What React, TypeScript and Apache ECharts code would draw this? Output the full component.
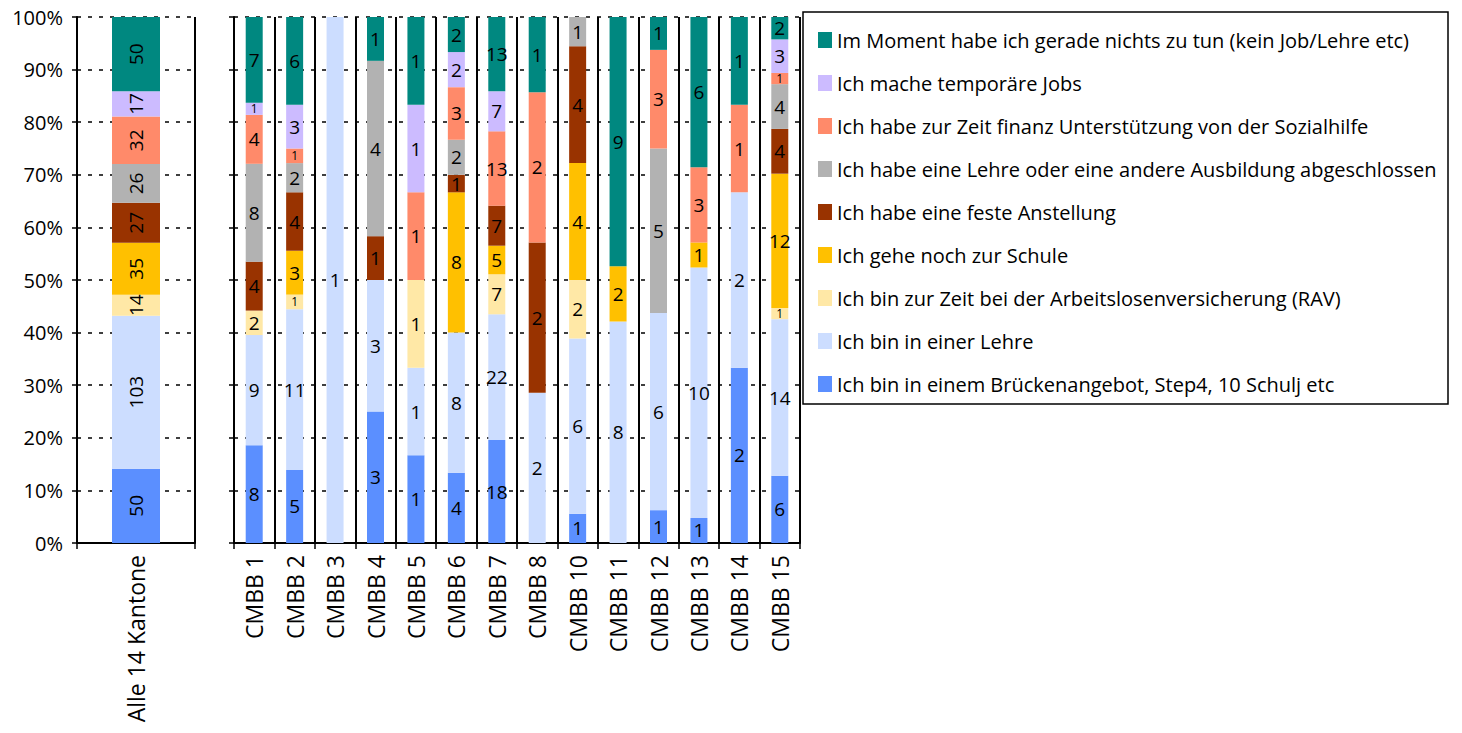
import React, { useEffect, useRef } from "react";
import * as echarts from "echarts";

const categories = [
  "Alle 14 Kantone",
  "CMBB 1", "CMBB 2", "CMBB 3", "CMBB 4", "CMBB 5", "CMBB 6", "CMBB 7",
  "CMBB 8", "CMBB 10", "CMBB 11", "CMBB 12", "CMBB 13", "CMBB 14", "CMBB 15",
];

const seriesNames = [
  "Ich bin in einem Brückenangebot, Step4, 10 Schulj etc",
  "Ich bin in einer Lehre",
  "Ich bin zur Zeit bei der Arbeitslosenversicherung (RAV)",
  "Ich gehe noch zur Schule",
  "Ich habe eine feste Anstellung",
  "Ich habe eine Lehre oder eine andere Ausbildung abgeschlossen",
  "Ich habe zur Zeit finanz Unterstützung von der Sozialhilfe",
  "Ich mache temporäre Jobs",
  "Im Moment habe ich gerade nichts zu tun (kein Job/Lehre etc)",
];

const bruecken = [50, 8, 5, 0, 3, 1, 4, 18, 0, 1, 0, 1, 1, 2, 6];
const lehre = [103, 9, 11, 1, 3, 1, 8, 22, 2, 6, 8, 6, 10, 2, 14];
const rav = [14, 2, 1, 0, 0, 1, 0, 7, 0, 2, 0, 0, 0, 0, 1];
const schule = [35, 0, 3, 0, 0, 0, 8, 5, 0, 4, 2, 0, 1, 0, 12];
const anstellung = [27, 4, 4, 0, 1, 0, 1, 7, 2, 4, 0, 0, 0, 0, 4];
const abgeschlossen = [26, 8, 2, 0, 4, 0, 2, 0, 0, 1, 0, 5, 0, 0, 4];
const sozialhilfe = [32, 4, 1, 0, 0, 1, 3, 13, 2, 0, 0, 3, 3, 1, 1];
const temporaer = [17, 1, 3, 0, 0, 1, 2, 7, 0, 0, 0, 0, 0, 0, 3];
const nichts = [50, 7, 6, 0, 1, 1, 2, 13, 1, 0, 9, 1, 6, 1, 2];

const counts = [bruecken, lehre, rav, schule, anstellung, abgeschlossen, sozialhilfe, temporaer, nichts];

const colors = [
  "#5B8FFF", "#CCDDFF", "#FFE8A6", "#FFC000", "#993300",
  "#B2B2B2", "#FF8A6A", "#CCBBFF", "#008880",
];

const yTicks = [0, 10, 20, 30, 40, 50, 60, 70, 80, 90, 100];

const FONT = "Open Sans";
const PLOT_H = 526;

export default function App() {
  const ref = useRef<HTMLDivElement>(null);
  useEffect(() => {
    if (!ref.current) return;
    const chart = echarts.init(ref.current, null, { renderer: "svg" });
    const totals = categories.map((_, i) => counts.reduce((s, arr) => s + arr[i], 0));

    const series: any[] = [];
    counts.forEach((arr, si) => {
      const mk = (idxs: number[], gi: number) => ({
        name: seriesNames[si],
        type: "bar",
        stack: "s" + gi,
        xAxisIndex: gi,
        yAxisIndex: gi,
        barWidth: gi === 0 ? 48 : 17,
        itemStyle: { color: colors[si] },
        label: {
          show: true,
          position: "inside",
          rotate: gi === 0 ? 90 : 0,
          color: "#000",
          fontFamily: FONT,
          fontSize: 19,
          formatter: (p: any) => (p.data.count > 0 ? String(p.data.count) : ""),
        },
        data: idxs.map((i) => {
          const pct = (arr[i] / totals[i]) * 100;
          const small = (pct / 100) * PLOT_H < 16;
          return {
            value: pct,
            count: arr[i],
            label: small ? { fontSize: 12 } : undefined,
          };
        }),
      });
      series.push(mk([0], 0));
      series.push(mk(categories.slice(1).map((_, k) => k + 1), 1));
    });

    const yAxisBase = (showLabel: boolean) => ({
      type: "value",
      min: yTicks[0],
      max: yTicks[yTicks.length - 1],
      interval: 10,
      axisLine: { show: true, lineStyle: { color: "#000", width: 2 } },
      axisTick: { show: true, length: 5, lineStyle: { color: "#000", width: 1.5 } },
      axisLabel: {
        show: showLabel,
        formatter: "{value}%",
        color: "#000",
        fontFamily: FONT,
        fontSize: 20,
        margin: 14,
      },
      splitLine: { show: true, lineStyle: { color: "#000", width: 1.5, type: [4, 7] } },
    });

    const xAxisBase = (data: string[], gi: number) => ({
      type: "category",
      gridIndex: gi,
      data,
      axisLine: { show: true, lineStyle: { color: "#000", width: 2 } },
      axisTick: { show: true, length: 6, lineStyle: { color: "#000", width: 1.5 } },
      splitLine: { show: true, lineStyle: { color: "#000", width: 2, type: "solid" } },
      axisLabel: {
        rotate: 90,
        interval: 0,
        color: "#000",
        fontFamily: FONT,
        fontSize: 23,
        margin: 12,
      },
    });

    chart.setOption({
      animation: false,
      textStyle: { fontFamily: FONT },
      grid: [
        { left: 77, top: 17, width: 118, bottom: 190 },
        { left: 234, top: 17, width: 566, bottom: 190 },
      ],
      xAxis: [xAxisBase([categories[0]], 0), xAxisBase(categories.slice(1), 1)],
      yAxis: [
        { ...yAxisBase(true), gridIndex: 0 },
        { ...yAxisBase(false), gridIndex: 1 },
      ],
      legend: {
        orient: "vertical",
        left: 813,
        top: 25,
        icon: "rect",
        itemWidth: 14,
        itemHeight: 16,
        itemGap: 23,
        selectedMode: false,
        data: seriesNames.slice().reverse(),
        textStyle: { color: "#000", fontFamily: FONT, fontSize: 20, lineHeight: 20 },
      },
      graphic: [
        {
          type: "rect",
          shape: { x: 803, y: 12, width: 645, height: 392 },
          style: { fill: "none", stroke: "#000", lineWidth: 1.5 },
        },
      ],
      series,
    });
    return () => chart.dispose();
  }, []);
  return (
    <div
      ref={ref}
      style={{ position: "fixed", left: 0, top: 0, width: 1462, height: 733, background: "#fff" }}
    />
  );
}
